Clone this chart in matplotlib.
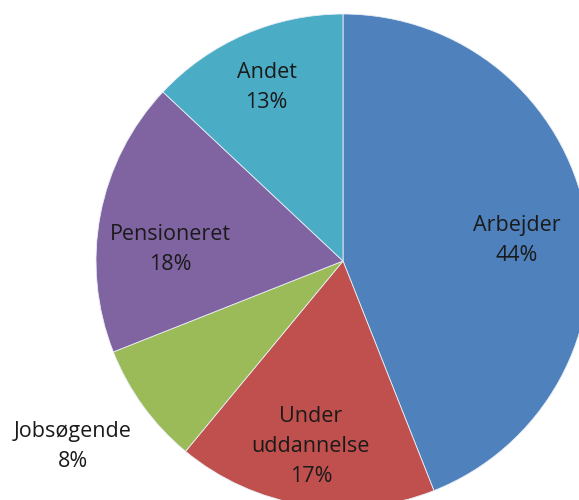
import numpy as np
import matplotlib
matplotlib.use("Agg")
import matplotlib.pyplot as plt

categories = ["Arbejder", "Under\nuddannelse", "Jobsøgende", "Pensioneret", "Andet"]
values = [44, 17, 8, 18, 13]
colors = ["#4F81BD", "#C0504D", "#9BBB59", "#8064A2", "#4BACC6"]
label_dist = [0.71, 0.75, 1.32, 0.70, 0.78]
angle_shift = [-3, -1, -2, 6, 0]

fig = plt.figure(figsize=(5.79, 5.00), dpi=100)
cx, cy, r = 343 / 579, (500 - 261) / 500, 247
ax = fig.add_axes([cx - r / 579, cy - r / 500, 2 * r / 579, 2 * r / 500])
wedges, _ = ax.pie(values, colors=colors, startangle=90, counterclock=False,
                   wedgeprops=dict(edgecolor="#E8EEF5", linewidth=0.6))
ax.set_xlim(-1, 1)
ax.set_ylim(-1, 1)
ax.set_aspect("auto")
ax.axis("off")

for w, cat, v, d, s in zip(wedges, categories, values, label_dist, angle_shift):
    ang = np.deg2rad((w.theta1 + w.theta2) / 2 + s)
    ax.text(d * np.cos(ang), d * np.sin(ang) - 0.012, f"{cat}\n{v}%", ha="center", va="center",
            fontsize=15.5, family=["Open Sans", "DejaVu Sans"], color="#1a1a1a",
            linespacing=1.55, clip_on=False)

fig.savefig("out.png", dpi=100)
